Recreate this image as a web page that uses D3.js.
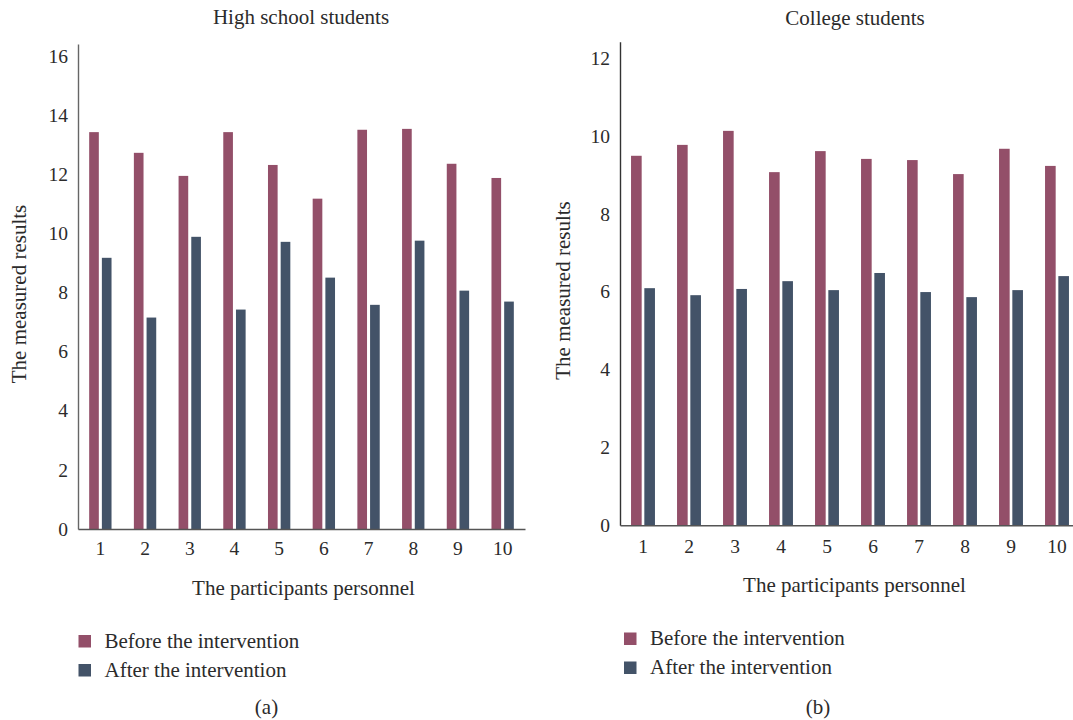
<!DOCTYPE html>
<html>
<head>
<meta charset="utf-8">
<script src="https://cdn.jsdelivr.net/npm/d3@7"></script>
<style>
  html, body { margin: 0; padding: 0; background: #fff; }
  svg { display: block; }
  text { font-family: "Liberation Serif", "DejaVu Serif", serif; fill: #2b2b2b; }
</style>
</head>
<body>
<svg id="chart" width="1073" height="720"></svg>
<script>
// Participants 1..10
const participants = ["1", "2", "3", "4", "5", "6", "7", "8", "9", "10"];
const seriesNames = ["Before the intervention", "After the intervention"];
const seriesColors = ["#934f69", "#435368"];

// (a) High school students
const highBefore = [13.42, 12.72, 11.94, 13.42, 12.31, 11.17, 13.50, 13.53, 12.35, 11.87];
const highAfter  = [9.17, 7.15, 9.88, 7.42, 9.71, 8.50, 7.58, 9.75, 8.06, 7.69];
const highTicks  = [0, 2, 4, 6, 8, 10, 12, 14, 16];

// (b) College students
const collegeBefore = [9.49, 9.77, 10.13, 9.07, 9.61, 9.41, 9.38, 9.02, 9.67, 9.23];
const collegeAfter  = [6.09, 5.91, 6.07, 6.27, 6.04, 6.48, 5.99, 5.86, 6.04, 6.40];
const collegeTicks  = [0, 2, 4, 6, 8, 10, 12];

const LABEL_SIZE = 21;

const svg = d3.select("#chart");
svg.append("rect").attr("width", 1073).attr("height", 720).attr("fill", "#fff");

function panel(cfg) {
  const g = svg.append("g");
  const x0 = d3.scaleBand().domain(participants).range(cfg.xRange).padding(0);
  const groupW = x0.bandwidth() * cfg.groupFrac;
  const x1 = d3.scaleBand().domain(seriesNames)
    .range([-groupW / 2, groupW / 2]).paddingInner(cfg.innerPad).paddingOuter(0);
  const y = d3.scaleLinear().domain([0, cfg.yMax]).range([cfg.y0, cfg.yTop]);

  const rows = participants.map((p, i) => ({ p, vals: [cfg.before[i], cfg.after[i]] }));

  // bars
  const grp = g.selectAll("g.grp").data(rows).join("g")
    .attr("transform", d => `translate(${x0(d.p) + x0.bandwidth() / 2},0)`);
  grp.selectAll("rect").data(d => d.vals.map((v, k) => ({ v, k }))).join("rect")
    .attr("x", d => x1(seriesNames[d.k]))
    .attr("width", x1.bandwidth())
    .attr("y", d => y(d.v))
    .attr("height", d => y(0) - y(d.v))
    .attr("fill", d => seriesColors[d.k]);

  // y axis
  const ya = g.append("g").attr("transform", `translate(${cfg.xRange[0]},0)`)
    .call(d3.axisLeft(y).tickValues(cfg.ticks).tickSize(0).tickPadding(10));
  ya.select(".domain").attr("stroke", cfg.yAxisColor).attr("stroke-width", 1.4);
  ya.selectAll("text").attr("font-size", 19.5).attr("fill", "#2b2b2b")
    .style("font-family", "Liberation Serif, serif");

  // x axis
  const xa = g.append("g").attr("transform", `translate(0,${cfg.y0})`)
    .call(d3.axisBottom(x0).tickSize(0).tickPadding(cfg.xPad));
  xa.select(".domain").attr("stroke", "#555").attr("stroke-width", 1.6);
  xa.selectAll("text").attr("font-size", 19.5).attr("fill", "#2b2b2b")
    .style("font-family", "Liberation Serif, serif");

  // titles
  g.append("text").attr("x", cfg.titleX).attr("y", cfg.titleY)
    .attr("text-anchor", "middle").attr("font-size", LABEL_SIZE).text(cfg.title);
  g.append("text").attr("x", cfg.xTitleX).attr("y", cfg.xTitleY)
    .attr("text-anchor", "middle").attr("font-size", LABEL_SIZE).text("The participants personnel");
  g.append("text")
    .attr("transform", `translate(${cfg.yTitleX},${cfg.yTitleY}) rotate(-90)`)
    .attr("text-anchor", "middle").attr("dominant-baseline", "central")
    .attr("font-size", LABEL_SIZE).text("The measured results");

  // legend
  const lg = g.append("g").selectAll("g").data(seriesNames).join("g")
    .attr("transform", (d, i) => `translate(${cfg.legX},${cfg.legY + i * cfg.legStep})`);
  lg.append("rect").attr("x", 0).attr("y", -12.5).attr("width", 12.5).attr("height", 12.5)
    .attr("fill", (d, i) => seriesColors[i]);
  lg.append("text").attr("x", 26).attr("y", 0).attr("font-size", LABEL_SIZE).text(d => d);

  g.append("text").attr("x", cfg.capX).attr("y", 714)
    .attr("text-anchor", "middle").attr("font-size", LABEL_SIZE).text(cfg.caption);
}

panel({
  before: highBefore, after: highAfter, ticks: highTicks,
  xRange: [78, 525], groupFrac: 0.5, innerPad: 0.24,
  y0: 529, yTop: 44, yMax: 16.4, yAxisColor: "#666", xPad: 12,
  title: "High school students", titleX: 301, titleY: 24,
  xTitleX: 303.5, xTitleY: 595, yTitleX: 19, yTitleY: 294,
  legX: 78.5, legY: 647.5, legStep: 29, capX: 266.5, caption: "(a)"
});

panel({
  before: collegeBefore, after: collegeAfter, ticks: collegeTicks,
  xRange: [620, 1080], groupFrac: 0.52, innerPad: 0.2,
  y0: 525.3, yTop: 41.7, yMax: 12.42, yAxisColor: "#333", xPad: 14,
  title: "College students", titleX: 855, titleY: 25,
  xTitleX: 854.5, xTitleY: 592, yTitleX: 563, yTitleY: 290.5,
  legX: 624, legY: 645, legStep: 29, capX: 818, caption: "(b)"
});
</script>
</body>
</html>
